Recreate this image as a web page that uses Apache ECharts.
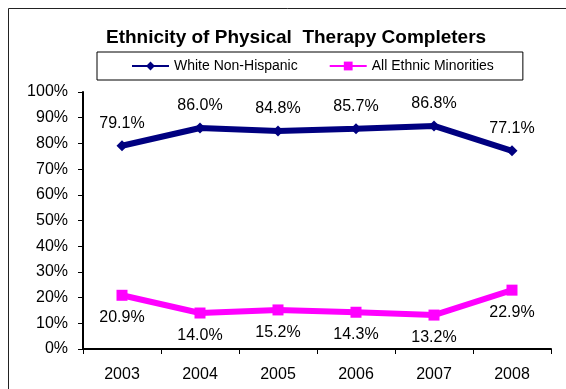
<!DOCTYPE html>
<html>
<head>
<meta charset="utf-8">
<script src="https://cdn.jsdelivr.net/npm/echarts@6/dist/echarts.min.js"></script>
<style>
html,body{margin:0;padding:0;background:#fff;}
#chart{width:566px;height:389px;}
</style>
</head>
<body>
<div id="chart"></div>
<script>
const years = ['2003', '2004', '2005', '2006', '2007', '2008'];
const whiteNonHispanic = [79.1, 86.0, 84.8, 85.7, 86.8, 77.1];
const allEthnicMinorities = [20.9, 14.0, 15.2, 14.3, 13.2, 22.9];
const seriesNames = ['White Non-Hispanic', 'All Ethnic Minorities'];
const chartTitle = 'Ethnicity of Physical  Therapy Completers';

const FONT = '"Liberation Sans", Arial, sans-serif';
const chart = echarts.init(document.getElementById('chart'), null, {renderer: 'canvas'});
chart.setOption({
  backgroundColor: '#fff',
  animation: false,
  graphic: [{
    type: 'rect', left: 6, top: 6, silent: true,
    shape: {width: 700, height: 500},
    style: {fill: 'none', stroke: '#222', lineWidth: 1}
  }],
  title: {
    text: chartTitle, left: 106, top: 28,
    textStyle: {fontFamily: FONT, fontWeight: 'bold', fontSize: 19, color: '#000'},
    padding: 0
  },
  legend: {
    left: 97, top: 52,
    padding: [7, 29, 7, 34],
    itemWidth: 37, itemHeight: 11, itemGap: 31,
    borderColor: '#000', borderWidth: 1,
    textStyle: {fontFamily: FONT, fontSize: 14, color: '#000'},
    lineStyle: {width: 2},
    data: seriesNames
  },
  grid: {left: 83, right: 15, top: 92, bottom: 40, containLabel: false},
  xAxis: {
    type: 'category', data: years, boundaryGap: true,
    axisLine: {lineStyle: {color: '#000', width: 2}},
    axisTick: {show: true, alignWithLabel: false, length: 5, lineStyle: {color: '#000', width: 1}},
    axisLabel: {fontFamily: FONT, fontSize: 16, color: '#000', margin: 18}
  },
  yAxis: {
    type: 'value', min: 0, max: 100, interval: 10,
    axisLine: {show: true, lineStyle: {color: '#000', width: 2}},
    axisTick: {show: true, length: 5, lineStyle: {color: '#000', width: 1}},
    splitLine: {show: false},
    axisLabel: {fontFamily: FONT, fontSize: 16, color: '#000', margin: 15, formatter: '{value}%'}
  },
  series: [{
    name: seriesNames[0], type: 'line', data: whiteNonHispanic,
    symbol: 'diamond', symbolSize: 11,
    lineStyle: {color: '#000080', width: 6},
    itemStyle: {color: '#000080'},
    label: {show: true, position: 'top', distance: 9, fontFamily: FONT, fontSize: 16, color: '#000',
      formatter: p => p.value.toFixed(1) + '%'}
  }, {
    name: seriesNames[1], type: 'line', data: allEthnicMinorities,
    symbol: 'rect', symbolSize: 11,
    lineStyle: {color: '#FF00FF', width: 6},
    itemStyle: {color: '#FF00FF'},
    label: {show: true, position: 'bottom', distance: 9, fontFamily: FONT, fontSize: 16, color: '#000',
      formatter: p => p.value.toFixed(1) + '%'}
  }]
});
</script>
</body>
</html>
